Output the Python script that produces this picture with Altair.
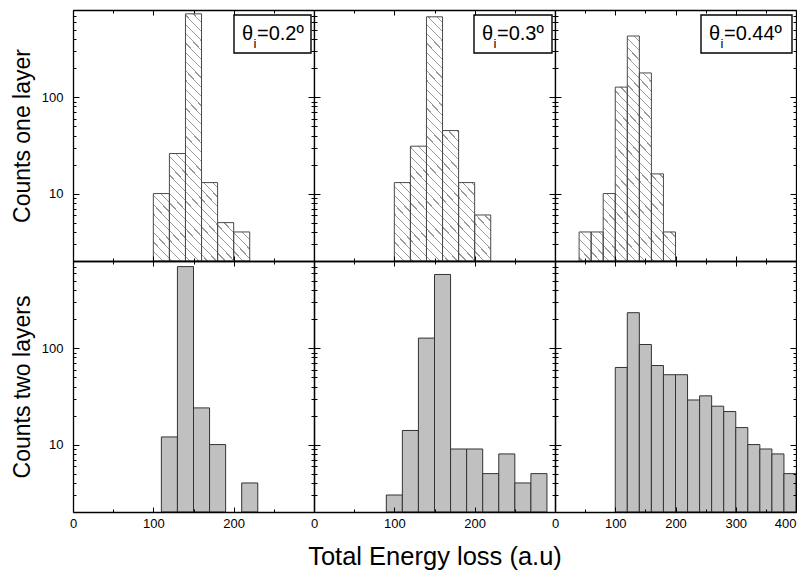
import altair as alt
import pandas as pd

# ---------------- data ----------------
FONT = "Liberation Sans"
BIN_WIDTH = 20
Y_DOMAIN = [2, 800]
X_MAX = [300, 300, 400]
ANGLE_LABELS = ["=0.2º", "=0.3º", "=0.44º"]
ROW_TITLES = ["Counts one layer", "Counts two layers"]
X_TITLE = "Total Energy loss (a.u)"

ONE_P1_START = [100, 120, 140, 160, 180, 200]
ONE_P1_COUNT = [10, 26, 730, 13, 5, 4]
ONE_P2_START = [100, 120, 140, 160, 180, 200]
ONE_P2_COUNT = [13, 31, 680, 45, 13, 6]
ONE_P3_START = [40, 60, 80, 100, 120, 140, 160, 180]
ONE_P3_COUNT = [4, 4, 10, 127, 430, 178, 16, 4]

TWO_P1_START = [110, 130, 150, 170, 210]
TWO_P1_COUNT = [12, 700, 24, 10, 4]
TWO_P2_START = [90, 110, 130, 150, 170, 190, 210, 230, 250, 270]
TWO_P2_COUNT = [3, 14, 127, 580, 9, 9, 5, 8, 4, 5]
TWO_P3_START = [100, 120, 140, 160, 180, 200, 220, 240, 260, 280, 300, 320, 340, 360, 380]
TWO_P3_COUNT = [63, 233, 109, 66, 53, 53, 29, 32, 25, 22, 15, 10, 9, 8, 5]

X_MAJOR = [[0, 100, 200, 300], [0, 100, 200, 300], [0, 100, 200, 300, 400]]
X_MINOR = [[50, 150, 250], [50, 150, 250], [50, 150, 250, 350]]
Y_MAJOR = [10, 100]
Y_MINOR = [2, 3, 4, 5, 6, 7, 8, 9, 20, 30, 40, 50, 60, 70, 80, 90,
           200, 300, 400, 500, 600, 700, 800]

# ---------------- layout / style ----------------
PANEL_W, PANEL_H = 241, 251
BOX_LEFT = [161, 160, 146]
BOX_RIGHT = [238, 238, 237]
HATCH_COLOR = "#9a9a9a"
HATCH_SPACING = 9.0
HATCH_LINE = 1.2

n_lines = int(round(2 * PANEL_W / HATCH_SPACING))
lw = HATCH_LINE / (2 * PANEL_W)
stops = []
for i in range(n_lines):
    a = i / n_lines
    b = min(a + lw, 1.0)
    stops += [
        alt.GradientStop(offset=a, color="white"),
        alt.GradientStop(offset=a, color=HATCH_COLOR),
        alt.GradientStop(offset=b, color=HATCH_COLOR),
        alt.GradientStop(offset=b, color="white"),
    ]
HATCH = alt.LinearGradient(gradient="linear", stops=stops, x1=0, y1=1, x2=1, y2=0)


def ax(**kw):
    base = dict(zindex=1, grid=False, tickColor="black", tickWidth=1,
                domainColor="black", domainWidth=1.3,
                labelFont=FONT, labelFontSize=13, labelColor="black",
                labelFlush=False, labelOverlap=False,
                titleFont=FONT, titleFontWeight="normal", titleColor="black")
    base.update(kw)
    return alt.Axis(**base)


def panel(starts, counts, row, col):
    xmax = X_MAX[col]
    xs = alt.Scale(domain=[0, xmax], nice=False, zero=False)
    ys = alt.Scale(type="log", domain=Y_DOMAIN, nice=False)
    bars = pd.DataFrame({"start": starts, "count": counts})
    bars["end"] = bars["start"] + BIN_WIDTH
    bars["base"] = Y_DOMAIN[0]

    is_bottom = row == 1
    is_left = col == 0
    if col < 2:
        label_expr = "datum.value >= %d ? '' : datum.label" % xmax
        label_align = "center"
    else:
        label_expr = "datum.label"
        label_align = {"condition": {"test": "datum.value >= %d" % xmax, "value": "right"},
                       "value": "center"}

    x_axes = [
        ax(orient="bottom", values=X_MAJOR[col], tickSize=alt.ExprRef(expr="-5"),
           labels=is_bottom, labelPadding=10, labelExpr=label_expr, labelAlign=label_align,
           domain=True,
           title=X_TITLE if (is_bottom and col == 1) else None,
           titleFontSize=25.5, titlePadding=14),
        ax(orient="bottom", values=X_MINOR[col], tickSize=alt.ExprRef(expr="-3"),
           labels=False, domain=False, title=None),
        ax(orient="top", values=X_MAJOR[col], tickSize=alt.ExprRef(expr="-5"),
           labels=False, domain=True, title=None),
        ax(orient="top", values=X_MINOR[col], tickSize=alt.ExprRef(expr="-3"),
           labels=False, domain=False, title=None),
    ]
    y_axes = [
        ax(orient="left", values=Y_MAJOR, tickSize=alt.ExprRef(expr="-6"),
           labels=is_left, labelPadding=16, domain=True,
           title=ROW_TITLES[row] if is_left else None,
           titleFontSize=23, titlePadding=7),
        ax(orient="left", values=Y_MINOR, tickSize=alt.ExprRef(expr="-3"),
           labels=False, domain=False, title=None),
        ax(orient="right", values=Y_MAJOR, tickSize=alt.ExprRef(expr="-6"),
           labels=False, domain=True, title=None),
        ax(orient="right", values=Y_MINOR, tickSize=alt.ExprRef(expr="-3"),
           labels=False, domain=False, title=None),
    ]

    layers = []
    if row == 0:
        frame = pd.DataFrame({"x0": [0], "x1": [xmax],
                              "y0": [Y_DOMAIN[0]], "y1": [Y_DOMAIN[1]]})
        layers.append(
            alt.Chart(frame).mark_rect(fill=HATCH, strokeWidth=0).encode(
                x=alt.X("x0:Q", scale=xs, axis=None), x2=alt.X2("x1"),
                y=alt.Y("y0:Q", scale=ys, axis=None), y2=alt.Y2("y1"))
        )
        mx = [0] + list(starts) + [starts[-1] + BIN_WIDTH, xmax]
        my = [Y_DOMAIN[0]] + list(counts) + [Y_DOMAIN[0], Y_DOMAIN[0]]
        mask = pd.DataFrame({"x": mx, "y": my})
        mask["top"] = Y_DOMAIN[1]
        layers.append(
            alt.Chart(mask).mark_area(color="white", opacity=1, interpolate="step-after").encode(
                x=alt.X("x:Q", scale=xs, axis=None),
                y=alt.Y("y:Q", scale=ys, axis=None, stack=None),
                y2=alt.Y2("top"))
        )
        bar_mark = alt.Chart(bars).mark_rect(fill="white", fillOpacity=0, stroke="#4a4a4a", strokeWidth=1)
    else:
        bar_mark = alt.Chart(bars).mark_rect(fill="#c0c0c0", stroke="#333333", strokeWidth=1)

    layers.append(bar_mark.encode(
        x=alt.X("start:Q", scale=xs, axis=None), x2=alt.X2("end"),
        y=alt.Y("count:Q", scale=ys, axis=None), y2=alt.Y2("base")))

    if row == 0:
        ann = pd.DataFrame({"label": [ANGLE_LABELS[col]]})
        tx = BOX_LEFT[col] + 8
        layers.append(alt.Chart(ann).mark_rect(fill="white", stroke="black", strokeWidth=1.4).encode(
            x=alt.value(BOX_LEFT[col]), x2=alt.value(BOX_RIGHT[col]),
            y=alt.value(5), y2=alt.value(43)))
        layers.append(alt.Chart(ann).mark_text(text="θ", align="left", baseline="alphabetic",
                                               font=FONT, fontSize=20, color="black").encode(
            x=alt.value(tx), y=alt.value(30)))
        layers.append(alt.Chart(ann).mark_text(text="i", align="left", baseline="alphabetic",
                                               font=FONT, fontSize=13, color="black").encode(
            x=alt.value(tx + 11.5), y=alt.value(38)))
        layers.append(alt.Chart(ann).mark_text(align="left", baseline="alphabetic",
                                               font=FONT, fontSize=20, color="black").encode(
            x=alt.value(tx + 15), y=alt.value(30), text="label:N"))

    for xa, ya in zip(x_axes, y_axes):
        layers.append(alt.Chart(bars).mark_point(opacity=0).encode(
            x=alt.X("start:Q", scale=xs, axis=xa),
            y=alt.Y("count:Q", scale=ys, axis=ya)))

    return alt.layer(*layers).resolve_axis(x="independent", y="independent").properties(
        width=PANEL_W, height=PANEL_H)


panels = [
    panel(ONE_P1_START, ONE_P1_COUNT, 0, 0),
    panel(ONE_P2_START, ONE_P2_COUNT, 0, 1),
    panel(ONE_P3_START, ONE_P3_COUNT, 0, 2),
    panel(TWO_P1_START, TWO_P1_COUNT, 1, 0),
    panel(TWO_P2_START, TWO_P2_COUNT, 1, 1),
    panel(TWO_P3_START, TWO_P3_COUNT, 1, 2),
]

chart = alt.concat(*panels, columns=3, spacing=0, bounds="flush").properties(
    padding={"left": 3, "top": 1, "right": 0, "bottom": 1}
).configure(font=FONT, background="white").configure_view(stroke=None)

chart.save("out.html", embed_options={"renderer": "svg", "actions": False})
